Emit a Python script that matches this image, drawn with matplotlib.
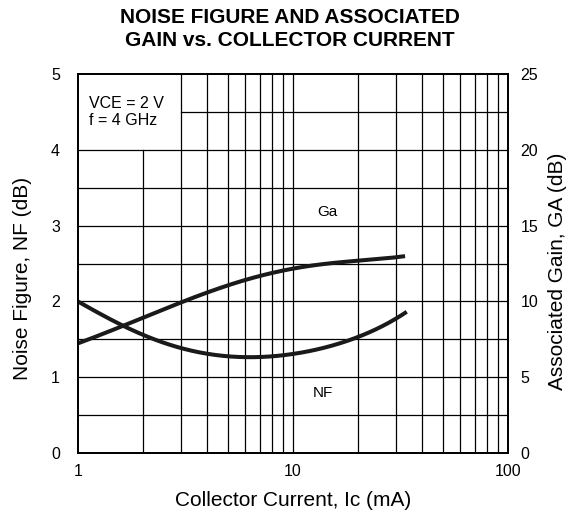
import numpy as np
import matplotlib.pyplot as plt
from matplotlib.ticker import FixedLocator, NullLocator

plt.rcParams['font.family'] = ['Liberation Sans', 'DejaVu Sans']

# courbe NF (dB) en fonction de Ic (mA)
ic_nf = [1.0, 1.62, 2.0, 3.0, 4.0, 5.0, 6.0, 8.0, 10.0, 14.0, 20.0, 30.0, 33.8]
nf = [2.0, 1.675, 1.557, 1.402, 1.306, 1.27, 1.262, 1.275, 1.302, 1.40, 1.534, 1.75, 1.877]

# courbe gain associe Ga (dB)
ic_ga = [1.0, 1.62, 2.0, 3.0, 4.0, 5.0, 6.0, 7.0, 10.0, 20.0, 30.0, 33.2]
ga = [7.24, 8.38, 8.89, 9.98, 10.62, 11.05, 11.36, 11.63, 12.25, 12.66, 12.9, 13.0]

nf_ticks = [0, 1, 2, 3, 4, 5]
ga_ticks = [0, 5, 10, 15, 20, 25]
x_ticks = [1, 10, 100]
x_ticklabels = ['1', '10', '100']


def lisse(x, y, deg=5, n=300):
    # lissage polynomial en log(x)
    lx = np.log10(x)
    c = np.polyfit(lx, y, deg)
    xs = np.linspace(lx[0], lx[-1], n)
    return 10 ** xs, np.polyval(c, xs)


fig = plt.figure(figsize=(5.8, 5.23), dpi=100)
ax = fig.add_axes([0.1345, 0.1338, 0.7414, 0.7247])
ax.set_xscale('log')
ax.set_xlim(1, 100)
ax.set_ylim(0, 5)

# grille a la main (zone blanche pour l'etiquette en haut a gauche)
for dec in [1, 10]:
    for k in range(2, 10):
        x = dec * k
        if x < 3:
            ax.plot([x, x], [0, 4], color='black', lw=0.9, zorder=1)
        else:
            ax.plot([x, x], [0, 5], color='black', lw=0.9, zorder=1)
ax.plot([10, 10], [0, 5], color='black', lw=0.9, zorder=1)
for y in np.arange(0.5, 5.0, 0.5):
    if y > 4:
        ax.plot([3, 100], [y, y], color='black', lw=0.9, zorder=1)
    else:
        ax.plot([1, 100], [y, y], color='black', lw=0.9, zorder=1)

xn, yn = lisse(ic_nf, nf)
ax.plot(xn, yn, color='#1a1a1a', lw=2.9, solid_capstyle='butt', zorder=3)
xg, yg = lisse(ic_ga, ga)
ax.plot(xg, yg / 5.0, color='#1a1a1a', lw=2.9, solid_capstyle='butt', zorder=3)

ax.text(14.4, 3.18, 'Ga', fontsize=11, ha='center', va='center')
ax.text(13.8, 0.79, 'NF', fontsize=11, ha='center', va='center')
ax.text(1.12, 4.50, 'VCE = 2 V\nf = 4 GHz', fontsize=11.5, ha='left', va='center',
        linespacing=1.15)

for s in ax.spines.values():
    s.set_linewidth(1.3)

ax.xaxis.set_major_locator(FixedLocator(x_ticks))
ax.xaxis.set_minor_locator(NullLocator())
ax.set_xticklabels(x_ticklabels)
ax.set_yticks(nf_ticks)
ax.tick_params(axis='y', length=0, labelsize=11.5, pad=13)
ax.tick_params(axis='x', length=0, labelsize=11.5, pad=8)
ax.set_ylabel('Noise Figure, NF (dB)', fontsize=15)
ax.yaxis.set_label_coords(-0.130, 0.46)
ax.yaxis.label.set_va('center')
ax.set_xlabel('Collector Current, Ic (mA)', fontsize=15)
ax.xaxis.set_label_coords(0.5, -0.124)
ax.xaxis.label.set_va('center')

ax2 = ax.twinx()
ax2.set_ylim(0, 25)
ax2.set_yticks(ga_ticks)
ax2.tick_params(length=0, labelsize=11.5, pad=9)
ax2.set_ylabel('Associated Gain, GA (dB)', fontsize=15, rotation=90)
ax2.yaxis.set_label_coords(1.114, 0.48)
ax2.yaxis.label.set_va('center')
for s in ax2.spines.values():
    s.set_linewidth(1.3)

fig.text(0.5, 0.985, 'NOISE FIGURE AND ASSOCIATED\nGAIN vs. COLLECTOR CURRENT',
         fontsize=15, fontweight='bold', ha='center', va='top', linespacing=1.25)

fig.savefig('out.png', dpi=100)
